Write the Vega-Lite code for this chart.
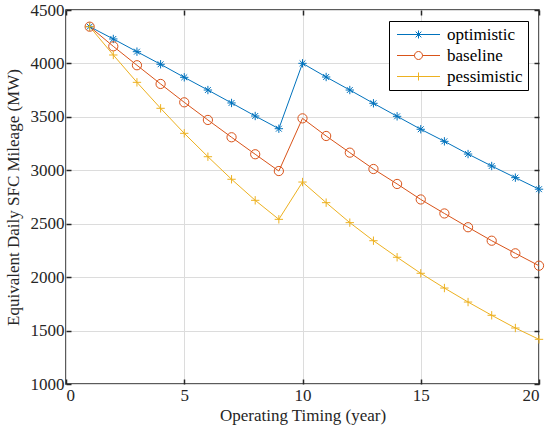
{
  "$schema": "https://vega.github.io/schema/vega-lite/v6.json",
  "width": 473,
  "height": 374,
  "autosize": "none",
  "padding": {"left": 66, "top": 10, "right": 11, "bottom": 52},
  "background": "white",
  "config": {
    "font": "Liberation Serif, Times New Roman, serif",
    "style": {
      "guide-label": {"font": "Liberation Serif, Times New Roman, serif", "fontSize": 17},
      "guide-title": {"font": "Liberation Serif, Times New Roman, serif", "fontSize": 17}
    },
    "view": {"stroke": "#262626", "strokeWidth": 1.5},
    "axis": {
      "labelFont": "Liberation Serif, Times New Roman, serif",
      "titleFont": "Liberation Serif, Times New Roman, serif",
      "labelFontSize": 17,
      "titleFontSize": 17,
      "labelColor": "#262626",
      "titleColor": "#262626",
      "titleFontWeight": "normal",
      "domain": false,
      "tickColor": "#262626",
      "tickSize": -5,
      "tickWidth": 1.5,
      "gridColor": "#dcdcdc",
      "gridWidth": 1,
      "gridOpacity": 1
    },
    "legend": {
      "labelFont": "Liberation Serif, Times New Roman, serif",
      "labelFontSize": 17,
      "labelColor": "#000000"
    }
  },
  "data": {
    "values": [
      {"year": 1, "scenario": "optimistic", "mileage": 4344},
      {"year": 2, "scenario": "optimistic", "mileage": 4229},
      {"year": 3, "scenario": "optimistic", "mileage": 4110},
      {"year": 4, "scenario": "optimistic", "mileage": 3992},
      {"year": 5, "scenario": "optimistic", "mileage": 3870},
      {"year": 6, "scenario": "optimistic", "mileage": 3751},
      {"year": 7, "scenario": "optimistic", "mileage": 3630},
      {"year": 8, "scenario": "optimistic", "mileage": 3508},
      {"year": 9, "scenario": "optimistic", "mileage": 3389},
      {"year": 10, "scenario": "optimistic", "mileage": 4001},
      {"year": 11, "scenario": "optimistic", "mileage": 3873},
      {"year": 12, "scenario": "optimistic", "mileage": 3751},
      {"year": 13, "scenario": "optimistic", "mileage": 3627},
      {"year": 14, "scenario": "optimistic", "mileage": 3505},
      {"year": 15, "scenario": "optimistic", "mileage": 3384},
      {"year": 16, "scenario": "optimistic", "mileage": 3271},
      {"year": 17, "scenario": "optimistic", "mileage": 3152},
      {"year": 18, "scenario": "optimistic", "mileage": 3040},
      {"year": 19, "scenario": "optimistic", "mileage": 2931},
      {"year": 20, "scenario": "optimistic", "mileage": 2823},
      {"year": 1, "scenario": "baseline", "mileage": 4344},
      {"year": 2, "scenario": "baseline", "mileage": 4160},
      {"year": 3, "scenario": "baseline", "mileage": 3983},
      {"year": 4, "scenario": "baseline", "mileage": 3808},
      {"year": 5, "scenario": "baseline", "mileage": 3636},
      {"year": 6, "scenario": "baseline", "mileage": 3471},
      {"year": 7, "scenario": "baseline", "mileage": 3309},
      {"year": 8, "scenario": "baseline", "mileage": 3150},
      {"year": 9, "scenario": "baseline", "mileage": 2993},
      {"year": 10, "scenario": "baseline", "mileage": 3486},
      {"year": 11, "scenario": "baseline", "mileage": 3321},
      {"year": 12, "scenario": "baseline", "mileage": 3165},
      {"year": 13, "scenario": "baseline", "mileage": 3012},
      {"year": 14, "scenario": "baseline", "mileage": 2872},
      {"year": 15, "scenario": "baseline", "mileage": 2727},
      {"year": 16, "scenario": "baseline", "mileage": 2596},
      {"year": 17, "scenario": "baseline", "mileage": 2467},
      {"year": 18, "scenario": "baseline", "mileage": 2341},
      {"year": 19, "scenario": "baseline", "mileage": 2223},
      {"year": 20, "scenario": "baseline", "mileage": 2107},
      {"year": 1, "scenario": "pessimistic", "mileage": 4344},
      {"year": 2, "scenario": "pessimistic", "mileage": 4079},
      {"year": 3, "scenario": "pessimistic", "mileage": 3823},
      {"year": 4, "scenario": "pessimistic", "mileage": 3580},
      {"year": 5, "scenario": "pessimistic", "mileage": 3346},
      {"year": 6, "scenario": "pessimistic", "mileage": 3127},
      {"year": 7, "scenario": "pessimistic", "mileage": 2916},
      {"year": 8, "scenario": "pessimistic", "mileage": 2719},
      {"year": 9, "scenario": "pessimistic", "mileage": 2541},
      {"year": 10, "scenario": "pessimistic", "mileage": 2890},
      {"year": 11, "scenario": "pessimistic", "mileage": 2697},
      {"year": 12, "scenario": "pessimistic", "mileage": 2510},
      {"year": 13, "scenario": "pessimistic", "mileage": 2341},
      {"year": 14, "scenario": "pessimistic", "mileage": 2186},
      {"year": 15, "scenario": "pessimistic", "mileage": 2036},
      {"year": 16, "scenario": "pessimistic", "mileage": 1898},
      {"year": 17, "scenario": "pessimistic", "mileage": 1767},
      {"year": 18, "scenario": "pessimistic", "mileage": 1643},
      {"year": 19, "scenario": "pessimistic", "mileage": 1524},
      {"year": 20, "scenario": "pessimistic", "mileage": 1418}
    ]
  },
  "layer": [
    {
      "mark": {"type": "line", "strokeWidth": 1},
      "encoding": {
        "x": {
          "field": "year",
          "type": "quantitative",
          "scale": {"domain": [0, 20], "nice": false},
          "axis": {"values": [0, 5, 10, 15, 20], "format": "d", "title": "Operating Timing (year)", "labelPadding": 8, "titlePadding": 4}
        },
        "y": {
          "field": "mileage",
          "type": "quantitative",
          "scale": {"domain": [1000, 4500], "nice": false, "zero": false},
          "axis": {"values": [1000, 1500, 2000, 2500, 3000, 3500, 4000, 4500], "format": "d", "title": "Equivalent Daily SFC Mileage (MW)", "labelPadding": 7, "titlePadding": 8}
        },
        "color": {
          "field": "scenario",
          "type": "nominal",
          "sort": ["optimistic", "baseline", "pessimistic"],
          "scale": {"domain": ["optimistic", "baseline", "pessimistic"], "range": ["#0072BD", "#D95319", "#EDB120"]},
          "legend": {
            "title": null,
            "orient": "top-right",
            "offset": 11,
            "padding": 5,
            "strokeColor": "#000000",
            "fillColor": "white",
            "cornerRadius": 0,
            "rowPadding": 3,
            "symbolSize": 100,
            "symbolOffset": 16,
            "labelOffset": 20,
            "encode": {
              "symbols": {
                "update": {
                  "shape": {"signal": "datum.value === 'optimistic' ? 'M-4.3,0L4.3,0M-0.8,0L0.8,0M0,-0.8L0,0.8M-0.57,-0.57L0.57,0.57M-0.57,0.57L0.57,-0.57' : datum.value === 'baseline' ? 'M-4.3,0L-0.8,0M0.8,0L4.3,0M0.8,0A0.8,0.8,0,1,1,-0.8,0A0.8,0.8,0,1,1,0.8,0' : 'M-4.3,0L4.3,0M0,-0.8L0,0.8'"},
                  "fill": {"value": "transparent"},
                  "strokeWidth": {"value": 1},
                  "opacity": {"value": 1}
                }
              }
            }
          }
        }
      }
    },
    {
      "transform": [{"filter": "datum.scenario === 'optimistic'"}],
      "mark": {"type": "point", "filled": false, "strokeWidth": 1, "size": 70, "opacity": 1, "shape": "M-1,0L1,0M0,-1L0,1M-0.7,-0.7L0.7,0.7M-0.7,0.7L0.7,-0.7"},
      "encoding": {
        "x": {"field": "year", "type": "quantitative", "axis": null},
        "y": {"field": "mileage", "type": "quantitative", "axis": null},
        "color": {"field": "scenario", "type": "nominal"}
      }
    },
    {
      "transform": [{"filter": "datum.scenario === 'baseline'"}],
      "mark": {"type": "point", "filled": false, "strokeWidth": 1, "size": 85, "opacity": 1, "shape": "circle"},
      "encoding": {
        "x": {"field": "year", "type": "quantitative", "axis": null},
        "y": {"field": "mileage", "type": "quantitative", "axis": null},
        "color": {"field": "scenario", "type": "nominal"}
      }
    },
    {
      "transform": [{"filter": "datum.scenario === 'pessimistic'"}],
      "mark": {"type": "point", "filled": false, "strokeWidth": 1, "size": 70, "opacity": 1, "shape": "M-1,0L1,0M0,-1L0,1"},
      "encoding": {
        "x": {"field": "year", "type": "quantitative", "axis": null},
        "y": {"field": "mileage", "type": "quantitative", "axis": null},
        "color": {"field": "scenario", "type": "nominal"}
      }
    },
    {
      "mark": {"type": "point", "opacity": 0},
      "encoding": {
        "x": {
          "field": "year",
          "type": "quantitative",
          "axis": {"orient": "top", "values": [0, 5, 10, 15, 20], "labels": false, "grid": false, "title": null}
        },
        "y": {
          "field": "mileage",
          "type": "quantitative",
          "axis": {"orient": "right", "values": [1000, 1500, 2000, 2500, 3000, 3500, 4000, 4500], "labels": false, "grid": false, "title": null}
        }
      }
    }
  ],
  "resolve": {"axis": {"x": "independent", "y": "independent"}}
}
